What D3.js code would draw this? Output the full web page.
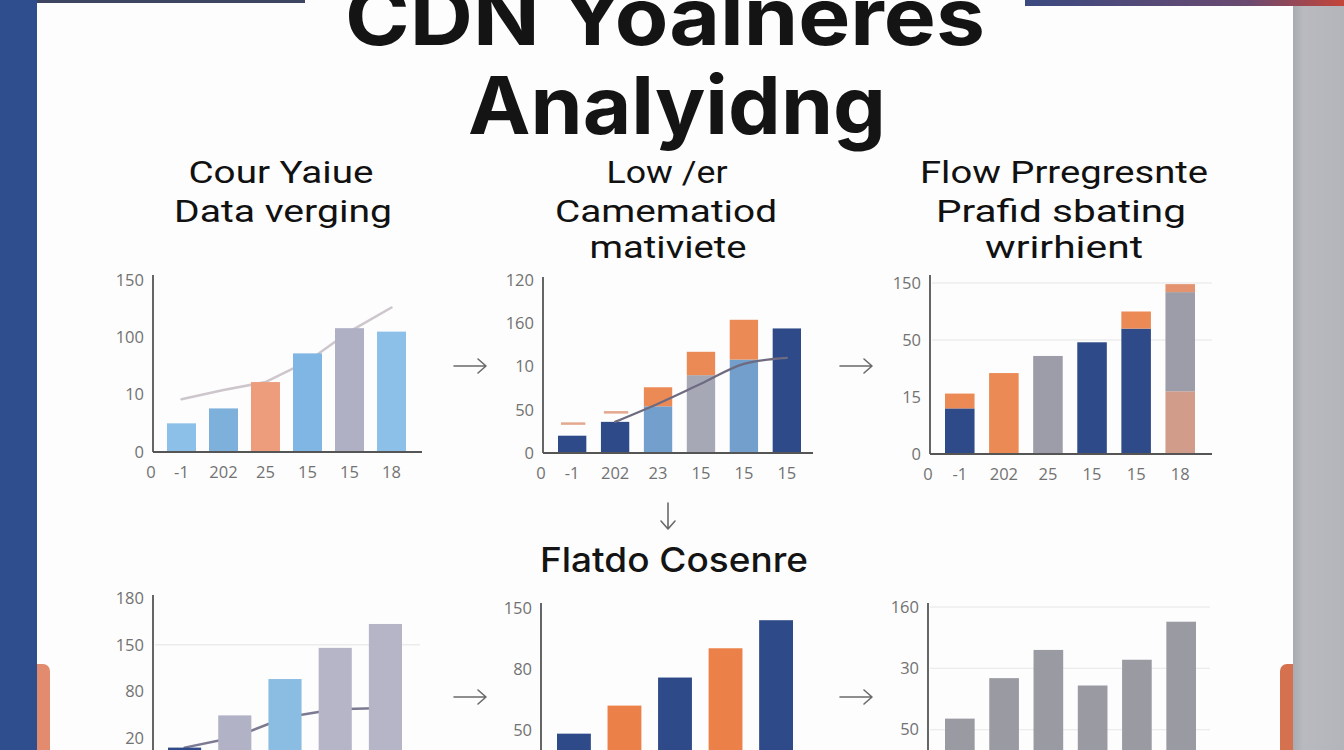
<!DOCTYPE html>
<html><head><meta charset="utf-8">
<script src="https://cdn.jsdelivr.net/npm/d3@7"></script>
<style>html,body{margin:0;padding:0;background:#fff;overflow:hidden}</style>
</head><body><svg id="c" width="1344" height="750"></svg>
<script>
// ---------------- data ----------------
const titleLines = ["CDN Yoalneres", "Analyidng"];
const subtitleLeft = ["Cour Yaiue", "Data verging"];
const subtitleMid = ["Low /er", "Camematiod", "mativiete"];
const subtitleRight = ["Flow Prregresnte", "Prafid sbating", "wrirhient"];
const middleHeading = "Flatdo Cosenre";

// top-left chart
const tlCategories = ["-1", "202", "25", "15", "15", "18"];
const tlOriginLabel = "0";
const tlTickValues = [0, 50, 100, 150];
const tlTickLabels = ["0", "10", "100", "150"];
const tlBars = [25, 38, 61, 86, 108, 105];
const tlLine = [46, 54, 61, 79, 105, 126];

// top-middle chart
const tmCategories = ["-1", "202", "23", "15", "15", "15"];
const tmOriginLabel = "0";
const tmTickValues = [0, 50, 100, 150, 200];
const tmTickLabels = ["0", "50", "10", "160", "120"];
const tmBase = [20, 36, 54, 90, 108, 144];
const tmTop = [0, 0, 22, 27, 46, 0];
const tmMarks = [34, 47, null, null, null, null];
const tmLine = [null, 36, 57, 80, 103, 110];

// top-right chart
const trCategories = ["-1", "202", "25", "15", "15", "18"];
const trOriginLabel = "0";
const trTickValues = [0, 50, 100, 150];
const trTickLabels = ["0", "15", "50", "150"];
const trLayer1 = [40, 71, 86, 98, 110, 55];
const trLayer2 = [13, 0, 0, 0, 15, 87];
const trLayer3 = [0, 0, 0, 0, 0, 7];

// bottom-left chart (axis continues below the picture edge)
const blTickValues = [45, 90, 135, 180];
const blTickLabels = ["20", "80", "150", "180"];
const blBars = [36, 67, 102, 132, 155];
const blLine = [36, 46, 65, 73, 74];

// bottom-middle chart
const bmTickValues = [50, 100, 150];
const bmTickLabels = ["50", "80", "150"];
const bmBars = [47, 70, 93, 117, 140];

// bottom-right chart
const brTickValues = [50, 100, 150];
const brTickLabels = ["50", "30", "160"];
const brBars = [59, 92, 115, 86, 107, 138];

// ---------------- styles ----------------
const C = {
  navy: "#2e4a88", lblue: "#8cc0e8", mblue: "#7eb0dc", sblue: "#729fcb",
  lav: "#afb0c4", gray: "#a6a8b6", dgray: "#9c9da8", orange: "#ec8a55",
  peach: "#ee9d7c", salmon: "#d29c8b", tick: "#727272", axis: "#555"
};

const svg = d3.select("#c");
const W = 1344, H = 750;

// background & frame
svg.append("rect").attr("width", W).attr("height", H).attr("fill", "#fdfdfd");
const defs = svg.append("defs");
const gr = defs.append("linearGradient").attr("id", "topR");
gr.append("stop").attr("offset", "0%").attr("stop-color", "#3b4a80");
gr.append("stop").attr("offset", "70%").attr("stop-color", "#6a4a70");
gr.append("stop").attr("offset", "100%").attr("stop-color", "#c4453a");
const gg = defs.append("linearGradient").attr("id", "grayR");
gg.append("stop").attr("offset", "0%").attr("stop-color", "#a9abb2");
gg.append("stop").attr("offset", "20%").attr("stop-color", "#b8bac0");
gg.append("stop").attr("offset", "100%").attr("stop-color", "#b3b5bb");

svg.append("rect").attr("x", 28).attr("y", 664).attr("width", 22).attr("height", 100).attr("rx", 7).attr("fill", "#e38b6e");
svg.append("rect").attr("x", 0).attr("y", 0).attr("width", 37).attr("height", H).attr("fill", "#2f4e8d");
svg.append("rect").attr("x", 1280).attr("y", 664).attr("width", 22).attr("height", 100).attr("rx", 7).attr("fill", "#d6714f");
svg.append("rect").attr("x", 1293).attr("y", 0).attr("width", 51).attr("height", H).attr("fill", "url(#grayR)");
svg.append("rect").attr("x", 37).attr("y", 0).attr("width", 268).attr("height", 3).attr("fill", "#3d4562");
svg.append("rect").attr("x", 1025).attr("y", 0).attr("width", 319).attr("height", 6).attr("fill", "url(#topR)");

// titles
function textLine(str, cx, y, size, weight, len, family, fill) {
  svg.append("text").attr("x", cx).attr("y", y).attr("text-anchor", "middle")
    .attr("font-family", family).attr("font-size", size).attr("font-weight", weight)
    .attr("fill", fill || "#111").attr("textLength", len).attr("lengthAdjust", "spacingAndGlyphs")
    .text(str);
}
const titleFont = "Inter, 'Open Sans', sans-serif";
textLine(titleLines[0], 665, 45, 80, 700, 640, titleFont, "#141414");
textLine(titleLines[1], 677, 134, 80, 700, 418, titleFont, "#141414");

const subFont = "Roboto, 'Liberation Sans', sans-serif";
const subBase = [183, 222, 258];
subtitleLeft.forEach((s, i) => textLine(s, [281, 283][i], subBase[i], 32, 400, [185, 218][i], subFont));
subtitleMid.forEach((s, i) => textLine(s, [667, 666, 668][i], subBase[i], 32, 400, [121, 222, 157][i], subFont));
subtitleRight.forEach((s, i) => textLine(s, [1064, 1061, 1064][i], subBase[i], 32, 400, [288, 250, 158][i], subFont));
textLine(middleHeading, 674, 572, 34, 500, 268, "Inter, 'Open Sans', sans-serif", "#141414");

// arrows
function arrowR(x0, x1, y) {
  svg.append("path").attr("d", `M${x0},${y}H${x1}M${x1 - 8},${y - 7}L${x1},${y}L${x1 - 8},${y + 7}`)
    .attr("fill", "none").attr("stroke", "#6a6a6a").attr("stroke-width", 1.6).attr("stroke-linecap", "round").attr("stroke-linejoin", "round");
}
arrowR(454, 486, 366); arrowR(840, 872, 366); arrowR(454, 486, 697); arrowR(840, 872, 697);
svg.append("path").attr("d", `M668,503V529M661,521L668,529L675,521`)
  .attr("fill", "none").attr("stroke", "#6a6a6a").attr("stroke-width", 1.6).attr("stroke-linecap", "round").attr("stroke-linejoin", "round");

// generic panel
const tickFont = "'Open Sans', sans-serif";
const tickSize = 16.5;
function panel(cfg) {
  const g = svg.append("g");
  const n = cfg.layers[0].length;
  const x = d3.scaleBand().domain(d3.range(n)).range(cfg.xr).paddingInner(cfg.pad).paddingOuter(0);
  const y = d3.scaleLinear().domain([0, cfg.max]).range([cfg.base, cfg.top]);
  if (cfg.grid) {
    g.append("g").selectAll("line").data(cfg.grid).join("line")
      .attr("x1", cfg.ax + 2).attr("x2", cfg.axRight).attr("y1", d => y(d)).attr("y2", d => y(d))
      .attr("stroke", "#ececec").attr("stroke-width", 1.3);
  }
  const lineGen = d3.line().defined(d => d != null)
    .x((d, i) => x(i) + x.bandwidth() / 2).y(d => y(d)).curve(cfg.curve || d3.curveLinear);
  const drawLine = () => g.append("path").datum(cfg.line).attr("d", lineGen)
    .attr("fill", "none").attr("stroke", cfg.lineColor).attr("stroke-width", cfg.lineWidth || 2.5)
    .attr("stroke-linecap", "round");
  if (cfg.line && cfg.lineBehind) drawLine();
  const cum = new Array(n).fill(0);
  cfg.layers.forEach((vals, li) => {
    const rows = vals.map((v, i) => ({ i, y0: cum[i], y1: cum[i] + v, c: cfg.colors[li][i] }));
    vals.forEach((v, i) => cum[i] += v);
    g.append("g").selectAll("rect").data(rows.filter(r => r.y1 > r.y0)).join("rect")
      .attr("x", r => x(r.i)).attr("width", x.bandwidth())
      .attr("y", r => y(r.y1)).attr("height", r => y(r.y0) - y(r.y1)).attr("fill", r => r.c);
  });
  if (cfg.marks) {
    g.append("g").selectAll("line").data(cfg.marks.map((v, i) => ({ v, i })).filter(d => d.v != null)).join("line")
      .attr("x1", d => x(d.i) + 3).attr("x2", d => x(d.i) + x.bandwidth() - 1)
      .attr("y1", d => y(d.v)).attr("y2", d => y(d.v))
      .attr("stroke", "#e3a88e").attr("stroke-width", 2.5);
  }
  if (cfg.line && !cfg.lineBehind) drawLine();
  // axes
  const ya = g.append("g").attr("transform", `translate(${cfg.ax},0)`)
    .call(d3.axisLeft(y).tickValues(cfg.ticks).tickFormat((d, i) => cfg.tickLabels[i]).tickSize(0).tickPadding(9));
  ya.select(".domain").remove();
  ya.selectAll("text").attr("font-family", tickFont).attr("font-size", tickSize).attr("fill", C.tick);
  g.append("line").attr("x1", cfg.ax).attr("x2", cfg.ax).attr("y1", cfg.axTop).attr("y2", cfg.base)
    .attr("stroke", C.axis).attr("stroke-width", 1.8);
  g.append("line").attr("x1", cfg.ax).attr("x2", cfg.axRight).attr("y1", cfg.base).attr("y2", cfg.base)
    .attr("stroke", C.axis).attr("stroke-width", 1.8);
  if (cfg.cats) {
    const xa = g.append("g").attr("transform", `translate(0,${cfg.base})`)
      .call(d3.axisBottom(x).tickFormat(i => cfg.cats[i]).tickSize(0).tickPadding(14));
    xa.select(".domain").remove();
    xa.selectAll("text").attr("font-family", tickFont).attr("font-size", tickSize).attr("fill", C.tick);
    g.append("text").attr("x", cfg.ax - 2).attr("y", cfg.base + 14).attr("dy", "0.71em").attr("text-anchor", "middle")
      .attr("font-family", tickFont).attr("font-size", tickSize).attr("fill", C.tick).text(cfg.origin);
  }
}

panel({
  xr: [167, 406], pad: 0.31, max: 150, base: 452, top: 280, ax: 153, axTop: 275, axRight: 422,
  ticks: tlTickValues, tickLabels: tlTickLabels, cats: tlCategories, origin: tlOriginLabel,
  layers: [tlBars], colors: [[C.lblue, C.mblue, C.peach, "#80b6e4", C.lav, C.lblue]],
  line: tlLine, lineColor: "#cdc6cc", lineBehind: true
});
panel({
  xr: [558, 801], pad: 0.34, max: 200, base: 453, top: 280, ax: 543, axTop: 277, axRight: 813,
  ticks: tmTickValues, tickLabels: tmTickLabels, cats: tmCategories, origin: tmOriginLabel,
  layers: [tmBase, tmTop],
  colors: [[C.navy, C.navy, C.sblue, C.gray, C.sblue, C.navy], Array(6).fill(C.orange)],
  marks: tmMarks, line: tmLine, lineColor: "#6e6a80", lineWidth: 2.2, curve: d3.curveMonotoneX
});
panel({
  xr: [945, 1195], pad: 0.33, max: 150, base: 454, top: 283, ax: 930, axTop: 275, axRight: 1212,
  ticks: trTickValues, tickLabels: trTickLabels, cats: trCategories, origin: trOriginLabel, grid: [100, 150],
  layers: [trLayer1, trLayer2, trLayer3],
  colors: [[C.navy, C.orange, C.dgray, C.navy, C.navy, C.salmon],
           [C.orange, C.orange, C.orange, C.orange, C.orange, C.dgray],
           Array(6).fill("#e3936f")]
});
panel({
  xr: [168, 402], pad: 0.34, max: 180, base: 785, top: 598, ax: 153, axTop: 595, axRight: 420,
  ticks: blTickValues, tickLabels: blTickLabels, grid: [135],
  layers: [blBars], colors: [[C.navy, "#b2b2c6", "#8bbde2", "#b5b5c7", "#b5b5c7"]],
  line: blLine, lineColor: "#7c7a92", lineBehind: true
});
panel({
  xr: [557, 793], pad: 0.33, max: 150, base: 791, top: 608, ax: 541, axTop: 603, axRight: 810,
  ticks: bmTickValues, tickLabels: bmTickLabels,
  layers: [bmBars], colors: [[C.navy, "#ec8049", C.navy, "#ec8049", C.navy]]
});
panel({
  xr: [945, 1196], pad: 0.33, max: 150, base: 791, top: 607, ax: 928, axTop: 603, axRight: 1210,
  ticks: brTickValues, tickLabels: brTickLabels, grid: [50, 100, 150],
  layers: [brBars], colors: [Array(6).fill("#9a9aa2")]
});
</script></body></html>
